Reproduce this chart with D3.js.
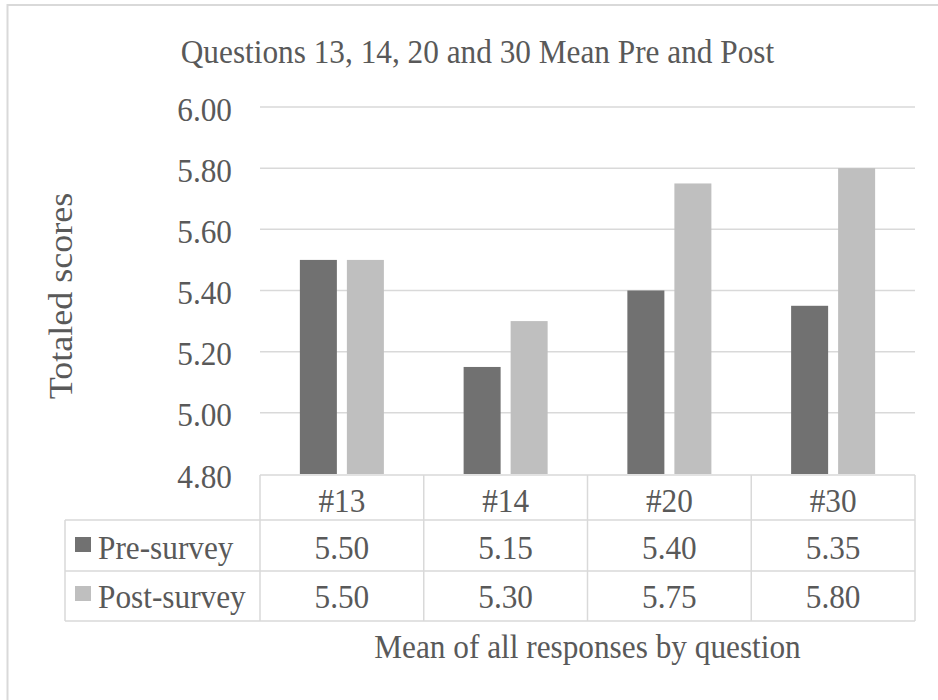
<!DOCTYPE html>
<html>
<head>
<meta charset="utf-8">
<script src="https://cdn.jsdelivr.net/npm/d3@7"></script>
<style>
  html, body { margin: 0; padding: 0; background: #fff; }
  svg { display: block; }
  text { font-family: "Liberation Serif", "Times New Roman", serif; fill: #595959; }
</style>
</head>
<body>
<svg id="chart" width="938" height="700"></svg>
<script>
// Chart data
const categories = ["#13", "#14", "#20", "#30"];
const seriesNames = ["Pre-survey", "Post-survey"];
const preSurvey = [5.50, 5.15, 5.40, 5.35];
const postSurvey = [5.50, 5.30, 5.75, 5.80];
const yTicks = [4.80, 5.00, 5.20, 5.40, 5.60, 5.80, 6.00];
const titleText = "Questions 13, 14, 20 and 30 Mean Pre and Post";
const yTitle = "Totaled scores";
const xTitle = "Mean of all responses by question";

const series = [
  { name: seriesNames[0], values: preSurvey, color: "#717171" },
  { name: seriesNames[1], values: postSurvey, color: "#bfbfbf" }
];

const W = 938, H = 700;
const plot = { left: 260, right: 915, top: 107, bottom: 474 };
const gridColor = "#d9d9d9";
const fontSize = 34;
const squeezeX = 0.92; // text set slightly narrow

const svg = d3.select("#chart");

// squeeze horizontal text to a narrower width
function squeeze(sel) {
  sel.each(function () {
    const len = this.getComputedTextLength();
    d3.select(this).attr("textLength", len * squeezeX).attr("lengthAdjust", "spacingAndGlyphs");
  });
}

// outer chart frame
svg.append("rect")
  .attr("x", 7.5).attr("y", 5)
  .attr("width", W).attr("height", H)
  .attr("fill", "none").attr("stroke", gridColor).attr("stroke-width", 2);

const y = d3.scaleLinear().domain([4.8, 6.0]).range([plot.bottom, plot.top]);
const x = d3.scaleBand().domain(categories).range([plot.left, plot.right]).paddingInner(0).paddingOuter(0);
const barW = x.bandwidth() * 0.226;
const barGap = 10;

// title
svg.append("text")
  .attr("x", 477.5).attr("y", 63)
  .attr("text-anchor", "middle")
  .attr("font-size", fontSize)
  .text(titleText)
  .call(squeeze);

// gridlines (above baseline)
svg.append("g").selectAll("line")
  .data(yTicks.filter(t => t > 4.8))
  .join("line")
  .attr("x1", plot.left).attr("x2", plot.right)
  .attr("y1", d => y(d)).attr("y2", d => y(d))
  .attr("stroke", gridColor).attr("stroke-width", 1.5);

// y tick labels
svg.append("g").selectAll("text")
  .data(yTicks)
  .join("text")
  .attr("x", 232)
  .attr("y", d => y(d) + 13.5)
  .attr("text-anchor", "end")
  .attr("font-size", fontSize)
  .text(d => d3.format(".2f")(d))
  .call(squeeze);

// y axis title
svg.append("text")
  .attr("transform", "translate(72,296) scale(0.92,1) rotate(-90)")
  .attr("text-anchor", "middle")
  .attr("font-size", 36)
  .text(yTitle);

// bars
series.forEach((s, si) => {
  svg.append("g").selectAll("rect")
    .data(categories.map((c, i) => ({ c, v: s.values[i] })))
    .join("rect")
    .attr("x", d => x(d.c) + x.bandwidth() / 2 - barW - barGap / 2 + si * (barW + barGap))
    .attr("y", d => y(d.v))
    .attr("width", barW)
    .attr("height", d => y(4.8) - y(d.v))
    .attr("fill", s.color);
});

// data table
const rowTop = [475, 520, 571, 621];
const tableLeft = 65;
const tableG = svg.append("g").attr("stroke", gridColor).attr("stroke-width", 1.5);
// horizontal rules
tableG.append("line").attr("x1", plot.left).attr("x2", plot.right).attr("y1", rowTop[0]).attr("y2", rowTop[0]);
[rowTop[1], rowTop[2], rowTop[3]].forEach(yy => {
  tableG.append("line").attr("x1", tableLeft).attr("x2", plot.right).attr("y1", yy).attr("y2", yy);
});
// vertical rules
tableG.append("line").attr("x1", tableLeft).attr("x2", tableLeft).attr("y1", rowTop[1]).attr("y2", rowTop[3]);
categories.forEach(c => {
  tableG.append("line").attr("x1", x(c)).attr("x2", x(c)).attr("y1", rowTop[0]).attr("y2", rowTop[3]);
});
tableG.append("line").attr("x1", plot.right).attr("x2", plot.right).attr("y1", rowTop[0]).attr("y2", rowTop[3]);

// header row: category labels
svg.append("g").selectAll("text")
  .data(categories)
  .join("text")
  .attr("x", d => x(d) + x.bandwidth() / 2)
  .attr("y", 512)
  .attr("text-anchor", "middle")
  .attr("font-size", fontSize)
  .text(d => d)
  .call(squeeze);

// series rows
const rowBaselines = [559, 608];
series.forEach((s, si) => {
  const base = rowBaselines[si];
  svg.append("rect")
    .attr("x", 75).attr("y", base - 22)
    .attr("width", 16).attr("height", 15)
    .attr("fill", s.color);
  svg.append("text")
    .attr("x", 98).attr("y", base)
    .attr("font-size", fontSize)
    .text(s.name)
    .call(squeeze);
  svg.append("g").selectAll("text")
    .data(categories.map((c, i) => ({ c, v: s.values[i] })))
    .join("text")
    .attr("x", d => x(d.c) + x.bandwidth() / 2)
    .attr("y", base)
    .attr("text-anchor", "middle")
    .attr("font-size", fontSize)
    .text(d => d3.format(".2f")(d.v))
    .call(squeeze);
});

// x axis title
svg.append("text")
  .attr("x", (plot.left + plot.right) / 2).attr("y", 658)
  .attr("text-anchor", "middle")
  .attr("font-size", fontSize)
  .text(xTitle)
  .call(squeeze);
</script>
</body>
</html>
